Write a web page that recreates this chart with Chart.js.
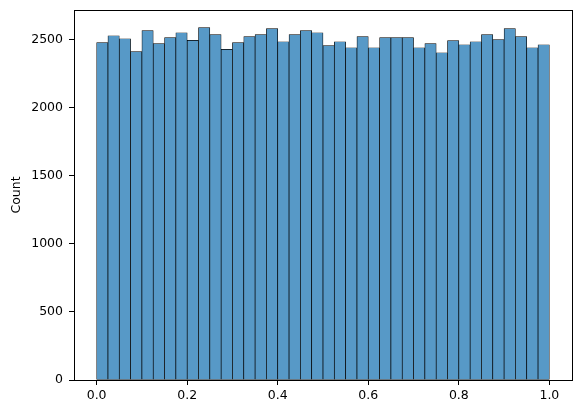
<!DOCTYPE html>
<html>
<head>
<meta charset="utf-8">
<script src="https://cdn.jsdelivr.net/npm/chart.js@4"></script>
<style>
html,body{margin:0;padding:0;background:#fff;}
#wrap{width:580px;height:413px;}
</style>
</head>
<body>
<div id="wrap"><canvas id="grafico"></canvas></div>
<script>
// 40 bins between 0 and 1
const binStart = 0;
const binWidth = 0.025;

const contagens = [
2478,2529,2507,2412,2566,2471,2515,2551,2495,2588,
2537,2429,2478,2522,2537,2581,2485,2537,2566,2551,
2456,2485,2441,2522,2441,2515,2515,2515,2441,2471,
2404,2493,2463,2485,2537,2500,2581,2522,2441,2463
];

const xTicks = [0, 0.2, 0.4, 0.6, 0.8, 1.0];
const yTicks = [0, 500, 1000, 1500, 2000, 2500];

const pontos = contagens.map((c,i)=>({x: binStart + binWidth*(i+0.5), y: c}));

const fonte = {family:"DejaVu Sans", size:12.5};

// moldura em volta da area do grafico (como os spines do matplotlib)
const moldura = {
  id:"moldura",
  afterDraw(chart){
    const a = chart.chartArea;
    const c = chart.ctx;
    c.save();
    c.strokeStyle = "#000";
    c.lineWidth = 1;
    c.strokeRect(Math.round(a.left)+0.5, Math.round(a.top)+0.5, Math.round(a.right-a.left), Math.round(a.bottom-a.top));
    c.restore();
  }
};

const ctx = document.getElementById("grafico");

new Chart(ctx,{
  type:"bar",
  data:{
    datasets:[{
      data:pontos,
      backgroundColor:"rgb(87,153,199)",
      borderColor:"#000",
      borderWidth:0.7,
      borderSkipped:false,
      barPercentage:1,
      categoryPercentage:1
    }]
  },
  options:{
    responsive:true,
    maintainAspectRatio:false,
    animation:false,
    layout:{padding:{left:0,right:8,top:10,bottom:0}},
    plugins:{legend:{display:false},tooltip:{enabled:false}},
    scales:{
      x:{
        type:"linear",
        min:-0.05,
        max:1.05,
        offset:false,
        afterBuildTicks:(ax)=>{ ax.ticks = xTicks.map(v=>({value:v})); },
        afterFit:(ax)=>{ ax.height = 33; ax.paddingLeft = 0; ax.paddingRight = 0; },
        grid:{offset:false,drawOnChartArea:false,drawTicks:true,tickLength:5,color:"#000",tickColor:"#000"},
        border:{display:false},
        ticks:{color:"#000",font:fonte,padding:3,maxRotation:0,callback:(v)=>Number(v).toFixed(1)}
      },
      y:{
        min:0,
        max:2718,
        afterBuildTicks:(ax)=>{ ax.ticks = yTicks.map(v=>({value:v})); },
        afterFit:(ax)=>{ ax.width = 74; ax.paddingTop = 0; ax.paddingBottom = 0; },
        grid:{drawOnChartArea:false,drawTicks:true,tickLength:5,color:"#000",tickColor:"#000"},
        border:{display:false},
        title:{display:true,text:"Count",color:"#000",font:fonte,padding:{top:9,bottom:0}},
        ticks:{color:"#000",font:fonte,padding:6,callback:(v)=>String(v)}
      }
    }
  },
  plugins:[moldura]
});
</script>
</body>
</html>
